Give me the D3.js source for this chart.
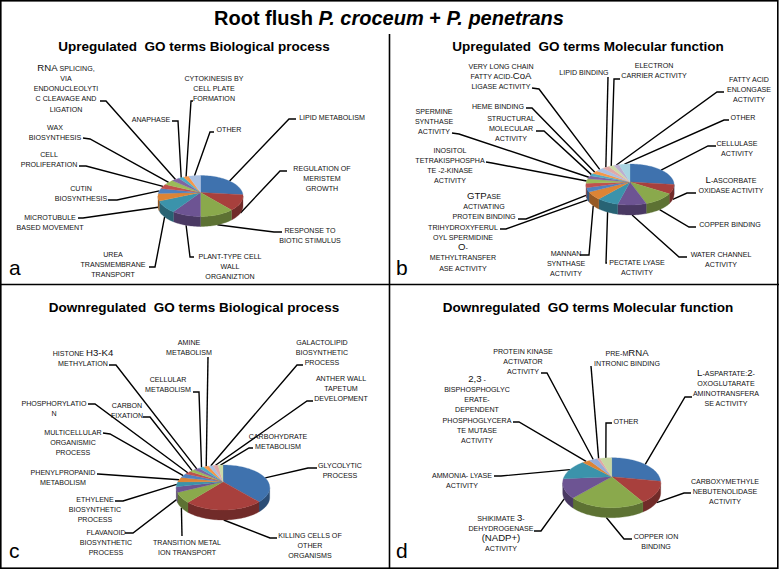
<!DOCTYPE html>
<html><head><meta charset="utf-8">
<script src="https://cdn.jsdelivr.net/npm/d3@7"></script>
<style>
html,body{margin:0;padding:0;background:#fff}
svg{display:block}
text{font-family:"Liberation Sans",Arial,sans-serif;white-space:pre}
</style></head><body>
<div id="chart"></div>
<script>
// ---------- data ----------
const titleA = "Upregulated  GO terms Biological process";
const titleB = "Upregulated  GO terms Molecular function";
const titleC = "Downregulated  GO terms Biological process";
const titleD = "Downregulated  GO terms Molecular function";

// {…} marks the capitals that the reference prints at full size
const categoriesA = [
 ["LIPID METABOLISM"],["REGULATION OF","MERISTEM","GROWTH"],["RESPONSE TO","BIOTIC STIMULUS"],
 ["PLANT-TYPE CELL","WALL","ORGANIZTION"],["UREA","TRANSMEMBRANE","TRANSPORT"],["MICROTUBULE","BASED MOVEMENT"],
 ["CUTIN","BIOSYNTHESIS"],["CELL","PROLIFERATION"],["WAX","BIOSYNTHESIS"],
 ["{RNA} SPLICING,","VIA","ENDONUCLEOLYTI","C CLEAVAGE AND","LIGATION"],["ANAPHASE"],
 ["CYTOKINESIS BY","CELL PLATE","FORMATION"],["OTHER"]];
const valuesA = [24,13,13,11,10,6,4,3.5,4,3,2,2,4.5];

const categoriesB = [
 ["CELLULASE","ACTIVITY"],["{L}-ASCORBATE","OXIDASE ACTIVITY"],["COPPER BINDING"],["WATER CHANNEL","ACTIVITY"],
 ["PECTATE LYASE","ACTIVITY"],["MANNAN","SYNTHASE","ACTIVITY"],
 ["TRIHYDROXYFERUL","OYL SPERMIDINE","{O}-","METHYLTRANSFER","ASE ACTIVITY"],
 ["{GTP}ASE","ACTIVATING","PROTEIN BINDING"],["INOSITOL","TETRAKISPHOSPHA","TE -2-KINASE","ACTIVITY"],
 ["SPERMINE","SYNTHASE","ACTIVITY"],["STRUCTURAL","MOLECULAR","ACTIVITY"],["HEME BINDING"],
 ["VERY LONG CHAIN","FATTY ACID-{CoA}","LIGASE ACTIVITY"],["LIPID BINDING"],["ELECTRON","CARRIER ACTIVITY"],
 ["FATTY ACID","ENLONGASE","ACTIVITY"],["OTHER"]];
const valuesB = [25,7.5,11.5,10.5,8,6.5,3.5,3.5,3.5,2.5,2,2.5,3,2.5,2,2,4];

const categoriesC = [
 ["GLYCOLYTIC","PROCESS"],["KILLING CELLS OF","OTHER","ORGANISMS"],["TRANSITION METAL","ION TRANSPORT"],
 ["FLAVANOID","BIOSYNTHETIC","PROCESS"],["ETHYLENE","BIOSYNTHETIC","PROCESS"],["PHENYLPROPANID","METABOLISM"],
 ["MULTICELLULAR","ORGANISMIC","PROCESS"],["PHOSPHORYLATIO","N"],["CARBON","FIXATION"],
 ["HISTONE {H3-K4}","METHYLATION"],["CELLULAR","METABOLISM"],["AMINE","METABOLISM"],
 ["GALACTOLIPID","BIOSYNTHETIC","PROCESS"],["ANTHER WALL","TAPETUM","DEVELOPMENT"],["CARBOHYDRATE","METABOLISM"]];
const valuesC = [36,27.5,8,4,3.5,3.3,3,2.2,2,2,1.8,1.7,1.6,1.7,1.7];

const categoriesD = [
 ["{L}-ASPARTATE:{2}-","OXOGLUTARATE","AMINOTRANSFERA","SE ACTIVITY"],["CARBOXYMETHYLE","NEBUTENOLIDASE","ACTIVITY"],
 ["COPPER ION","BINDING"],["SHIKIMATE {3}-","DEHYDROGENASE","{(NADP+)}","ACTIVITY"],["AMMONIA- LYASE","ACTIVITY"],
 ["{2,3} -","BISPHOSPHOGLYC","ERATE-","DEPENDENT","PHOSPHOGLYCERA","TE MUTASE","ACTIVITY"],
 ["PROTEIN KINASE","ACTIVATOR","ACTIVITY"],["PRE-M{RNA}","INTRONIC BINDING"],["OTHER"]];
const valuesD = [24,15,25.5,13,12.5,2.5,2.7,1,3.8];

// ---------- colours ----------
const paletteMain = ["#3f72ae","#a8403d","#8aa94c","#6d5493","#3b93ab","#dd8435","#4f81c0","#c0504d","#9bbb59","#8064a2","#4bacc6","#f79646","#a9c0e2","#e2a9a7","#cbdaa8","#bcaed0","#a8d4e2"];
const paletteD = ["#3f72ae","#a8403d","#8aa94c","#6d5493","#3b93ab","#dd8435","#94abd8","#e2a5a3","#c6d6a0"];

// ---------- layout (label x, first-line y, leader start x/y, leader elbow x/y) ----------
const layoutA = [[332,117,296,119,289,119],[322,168,287,171,280,171],[310,230,282,232,274,232],[230,256,194,257,190,257],
 [113,254,149,267,155,267],[50,217,78,218,83,218],[81,188,108,200,117,200],[49,154,79,166,86,166],[55,127,83,138,90,139],
 [66,68,100,101,106,101],[151,119,172,121,178,121],[214,78,193,101,191,101],[229,129,214,132,210,132]];
const layoutB = [[737,143,716,146,708,146],[731,180,696,193,687,193],[730,224,696,227,689,227],[721,254,687,257,679,257],
 [637,262,607,263,606,263],[566,253,580,255,589,255],[463,227,500,229,506,229],[484,196,518,219,526,219],
 [450,150,486,162,492,163],[434,111,452,133,459,134],[511,118,536,131,544,131],[498,106,526,108,532,108],
 [501,66,532,88,539,89],[584,72,608,77,608,77],[654,65,620,79,614,79],[749,79,724,92,717,92],[743,117,729,120,724,120]];
const layoutC = [[340,465,317,468,308,468],[310,535,277,538,270,538],[187,542,182,536,182,536],[106,532,125,533,133,533],
 [95,499,115,501,123,501],[63,472,97,474,98,474],[73,432,103,433,110,434],[54,403,88,404,95,404],[127,405,143,417,150,417],
 [83,353,109,365,116,365],[168,379,193,392,199,392],[189,342,208,357,208,357],[322,342,303,365,297,365],
 [341,378,313,401,307,401],[278,436,253,448,249,448]];
const layoutD = [[726,373,692,397,685,397],[725,481,691,493,684,493],[656,536,632,539,624,539],[501,518,534,531,541,531],
 [462,475,494,476,501,476],[477,379,513,422,519,422],[523,351,541,373,547,373],[627,353,591,366,591,366],[626,421,612,423,606,423]];

const panels = [
 {title:titleA,cats:categoriesA,vals:valuesA,lay:layoutA,pal:paletteMain,letter:"a",tx:194,ty:46,lx:9,ly:275,cx:200.5,cy:196,rx:42.5,ry:20.5,ay:192.5,depth:10},
 {title:titleB,cats:categoriesB,vals:valuesB,lay:layoutB,pal:paletteMain,letter:"b",tx:588,ty:46,lx:396,ly:275,cx:630,cy:184.5,rx:44,ry:20.5,ay:182,depth:10},
 {title:titleC,cats:categoriesC,vals:valuesC,lay:layoutC,pal:paletteMain,letter:"c",tx:194,ty:307,lx:9,ly:558,cx:223,cy:487.5,rx:46.7,ry:22.5,ay:481.7,depth:10},
 {title:titleD,cats:categoriesD,vals:valuesD,lay:layoutD,pal:paletteD,letter:"d",tx:588,ty:307,lx:396,ly:558,cx:611.7,cy:482.7,rx:49,ry:25,ay:476.7,depth:10}
];

// ---------- drawing ----------
const W = 779, H = 569, SMALL = 7.1, BIG = 9.6, LEAD = 10.3;
const svg = d3.select("#chart").append("svg").attr("width",W).attr("height",H);
svg.append("rect").attr("width",W).attr("height",H).attr("fill","#fff");

// frame
const frame = svg.append("g").attr("stroke","#000").attr("stroke-width",1.6).attr("fill","none");
frame.append("rect").attr("x",.8).attr("y",.8).attr("width",W-2).attr("height",H-1.6);
frame.append("line").attr("x1",389.5).attr("x2",389.5).attr("y1",34).attr("y2",H);
frame.append("line").attr("x1",0).attr("x2",W).attr("y1",284.5).attr("y2",284.5);

// main title
const mt = svg.append("text").attr("x",389).attr("y",25).attr("text-anchor","middle")
  .attr("font-size",20).attr("font-weight","bold").attr("fill","#000");
mt.append("tspan").text("Root flush ");
mt.append("tspan").attr("font-style","italic").text("P. croceum");
mt.append("tspan").text(" + ");
mt.append("tspan").attr("font-style","italic").text("P. penetrans");

const pieGen = d3.pie().sort(null);

panels.forEach(p=>{
  const g = svg.append("g");
  const rim = a => [p.cx + p.rx*Math.sin(a), p.cy - p.ry*Math.cos(a)];
  const arcs = pieGen(p.vals);
  const samples = (a0,a1) => d3.range(0,1.0001,1/Math.max(2,Math.ceil((a1-a0)/0.04))).map(t=>a0+(a1-a0)*t);
  const line = d3.line();

  g.append("text").attr("x",p.tx).attr("y",p.ty+5).attr("text-anchor","middle")
    .attr("font-size",13.5).attr("font-weight","bold").attr("fill","#000").text(p.title);
  g.append("text").attr("x",p.lx).attr("y",p.ly).attr("font-size",21).attr("fill","#000").text(p.letter);

  // leaders
  g.selectAll("path.leader").data(arcs).join("path").attr("class","leader")
    .attr("fill","none").attr("stroke","#000").attr("stroke-width",1.4)
    .attr("d",(d,i)=>{
      const L = p.lay[i], mid=(d.startAngle+d.endAngle)/2, e=rim(mid);
      if(Math.cos(mid)<0) e[1]+=p.depth;
      return line([[L[2],L[3]],[L[4],L[5]],e]);
    });

  // side wall (front half of the rim only)
  const lo=Math.PI/2, hi=3*Math.PI/2;
  g.selectAll("path.wall").data(arcs.filter(d=>d.endAngle>lo&&d.startAngle<hi)).join("path").attr("class","wall")
    .attr("fill",d=>d3.color(p.pal[d.index]).darker(1.1))
    .attr("stroke",d=>d3.color(p.pal[d.index]).darker(1.1)).attr("stroke-width",.3)
    .attr("d",d=>{
      const a0=Math.max(d.startAngle,lo), a1=Math.min(d.endAngle,hi);
      const top=samples(a0,a1).map(rim);
      const bot=top.map(q=>[q[0],q[1]+p.depth]).reverse();
      return line(top.concat(bot))+"Z";
    });

  // top face: the slices meet at a point above the ellipse centre, as in the perspective of the reference
  g.selectAll("path.slice").data(arcs).join("path").attr("class","slice")
    .attr("fill",d=>p.pal[d.index]).attr("stroke",d=>p.pal[d.index]).attr("stroke-width",.3)
    .attr("d",d=>line([[p.cx,p.ay]].concat(samples(d.startAngle,d.endAngle).map(rim)))+"Z");

  // labels
  p.cats.forEach((lines,i)=>{
    const L=p.lay[i];
    lines.forEach((ln,k)=>{
      const t=g.append("text").attr("x",L[0]).attr("y",L[1]+k*LEAD+2.5)
        .attr("text-anchor","middle").attr("fill","#111").attr("font-size",SMALL);
      ln.split(/(\{[^}]*\})/).filter(s=>s.length).forEach(s=>{
        const big=s[0]==="{";
        t.append("tspan").attr("font-size",big?BIG:SMALL).text(big?s.slice(1,-1):s);
      });
    });
  });
});
</script>
</body></html>
